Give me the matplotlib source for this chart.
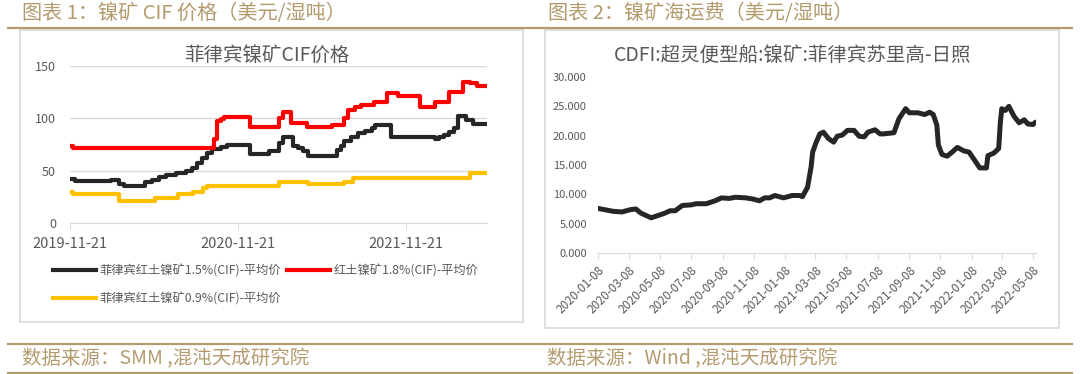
import matplotlib
matplotlib.use("Agg")
import matplotlib.pyplot as plt
import matplotlib.dates as mdates
from matplotlib.lines import Line2D
from matplotlib.patches import Rectangle
import pandas as pd

plt.rcParams['font.family'] = ['Noto Sans CJK SC', 'DejaVu Sans']

# ---- chart 1: CIF prices (step series) ----
black_dates = ['2019-11-21', '2019-12-01', '2020-02-17', '2020-03-07', '2020-03-18',
               '2020-05-02', '2020-05-17', '2020-06-01', '2020-06-16', '2020-07-08',
               '2020-07-30', '2020-08-11', '2020-08-22', '2020-09-02', '2020-09-13',
               '2020-09-25', '2020-10-13', '2020-10-28', '2020-12-16', '2021-01-26',
               '2021-02-17', '2021-02-25', '2021-03-19', '2021-03-30', '2021-04-10',
               '2021-04-22', '2021-06-13', '2021-06-24', '2021-07-02', '2021-07-09',
               '2021-07-24', '2021-08-08', '2021-08-23', '2021-09-07', '2021-09-14',
               '2021-10-18', '2022-01-23', '2022-01-30', '2022-02-11', '2022-02-22',
               '2022-03-05', '2022-03-13', '2022-03-31', '2022-04-15', '2022-05-15']
black_vals = [42, 40, 41, 37, 35, 39, 41, 44, 46, 48, 50, 53, 57, 62, 67,
              71, 73, 75, 66, 69, 76, 82, 74, 72, 69, 64, 64, 70, 74, 78,
              82, 86, 88, 91, 94, 82, 80, 82, 84, 87, 91, 102, 98, 95, 95]

red_dates = ['2019-11-21', '2019-11-27', '2020-09-28', '2020-10-06', '2020-10-13',
             '2020-10-21', '2020-12-16', '2021-02-17', '2021-02-25', '2021-03-15',
             '2021-04-18', '2021-06-13', '2021-07-09', '2021-07-17', '2021-08-01',
             '2021-08-15', '2021-09-11', '2021-10-10', '2021-11-02', '2021-12-20',
             '2022-01-23', '2022-02-22', '2022-03-24', '2022-04-08', '2022-04-23',
             '2022-05-15']
red_vals = [74, 72, 80, 97, 99, 101, 92, 100, 106, 96, 92, 94, 100, 108, 111,
            113, 116, 124, 121, 111, 116, 125, 135, 134, 131, 131]

gold_dates = ['2019-11-21', '2019-11-27', '2020-03-07', '2020-05-24', '2020-07-12',
              '2020-08-14', '2020-09-06', '2020-09-13', '2021-02-17', '2021-04-22',
              '2021-07-09', '2021-07-28', '2022-04-08', '2022-05-15']
gold_vals = [30, 28, 21, 24, 28, 30, 33, 35, 39, 37, 39, 43, 48, 48]

cif_labels = ['菲律宾红土镍矿1.5%(CIF)-平均价', '红土镍矿1.8%(CIF)-平均价',
              '菲律宾红土镍矿0.9%(CIF)-平均价']
cif_ticks = ['2019-11-21', '2020-11-21', '2021-11-21']

# ---- chart 2: freight ----
freight_dates = ['2020-01-08', '2020-02-07', '2020-02-24', '2020-03-12', '2020-03-22',
                 '2020-04-01', '2020-04-11', '2020-04-21', '2020-05-05', '2020-05-18',
                 '2020-05-28', '2020-06-07', '2020-06-21', '2020-07-08', '2020-07-18',
                 '2020-08-07', '2020-08-24', '2020-09-06', '2020-09-20', '2020-10-03',
                 '2020-10-23', '2020-11-06', '2020-11-19', '2020-11-29', '2020-12-09',
                 '2020-12-19', '2021-01-05', '2021-01-22', '2021-02-05', '2021-02-11',
                 '2021-02-21', '2021-02-28', '2021-03-03', '2021-03-10', '2021-03-17',
                 '2021-03-24', '2021-04-03', '2021-04-13', '2021-04-20', '2021-04-30',
                 '2021-05-10', '2021-05-23', '2021-06-02', '2021-06-12', '2021-06-19',
                 '2021-07-03', '2021-07-13', '2021-07-19', '2021-08-09', '2021-08-19',
                 '2021-09-01', '2021-09-08', '2021-09-25', '2021-10-08', '2021-10-18',
                 '2021-10-25', '2021-11-01', '2021-11-04', '2021-11-11', '2021-11-21',
                 '2021-12-01', '2021-12-11', '2021-12-24', '2022-01-03', '2022-01-14',
                 '2022-01-24', '2022-02-06', '2022-02-09', '2022-02-20', '2022-03-02',
                 '2022-03-05', '2022-03-08', '2022-03-15', '2022-03-22', '2022-04-01',
                 '2022-04-11', '2022-04-21', '2022-04-28', '2022-05-08', '2022-05-13']
freight_vals = [7.6, 7.1, 7.0, 7.4, 7.5, 6.8, 6.4, 6.0, 6.4, 6.8,
                7.2, 7.2, 8.1, 8.2, 8.4, 8.4, 8.9, 9.4, 9.3, 9.5,
                9.4, 9.2, 8.9, 9.4, 9.4, 9.8, 9.4, 9.8, 9.8, 9.6,
                11.2, 14.7, 17.2, 18.9, 20.3, 20.6, 19.5, 18.9, 19.9, 20.1,
                20.9, 20.9, 19.9, 19.8, 20.6, 21.0, 20.3, 20.3, 20.5, 22.9,
                24.6, 23.9, 23.9, 23.6, 24.0, 23.6, 21.8, 18.4, 16.8, 16.5,
                17.2, 18.0, 17.4, 17.2, 15.8, 14.5, 14.5, 16.6, 17.0, 17.8,
                22.0, 24.6, 24.3, 25.0, 23.3, 22.2, 22.7, 22.0, 21.9, 22.3]

GOLD = '#b39b6e'
GRID = '#d9d9d9'
TXT = '#595959'
W, H = 1080, 374

fig = plt.figure(figsize=(10.8, 3.74), dpi=100)
fig.patch.set_facecolor('white')

def fx(px):
    return px / W

def fy(py):
    return 1 - py / H

# decoration: headings, rules, boxes, sources
fig.text(fx(22), fy(14), '图表 1：镍矿 CIF 价格（美元/湿吨）', color=GOLD, fontsize=14.5,
         va='center', ha='left')
fig.text(fx(548), fy(14), '图表 2：镍矿海运费（美元/湿吨）', color=GOLD, fontsize=14.5,
         va='center', ha='left')
for yy in (28, 344, 372.5):
    fig.add_artist(Line2D([fx(8), fx(1072)], [fy(yy), fy(yy)], color=GOLD, lw=1.6))
fig.add_artist(Rectangle((fx(20), fy(322)), fx(503), (322 - 30) / H, fill=False,
                         edgecolor=GRID, lw=1.2, transform=fig.transFigure))
fig.add_artist(Rectangle((fx(545), fy(328)), fx(514), (328 - 30) / H, fill=False,
                         edgecolor=GRID, lw=1.2, transform=fig.transFigure))
fig.text(fx(22), fy(359), '数据来源：SMM ,混沌天成研究院', color=GOLD, fontsize=14,
         va='center', ha='left')
fig.text(fx(547), fy(359), '数据来源：Wind ,混沌天成研究院', color=GOLD, fontsize=14,
         va='center', ha='left')

# ---- left chart ----
ax1 = fig.add_axes([fx(70), fy(223), fx(417), (223 - 66) / H])
l1, = ax1.plot(pd.to_datetime(black_dates), black_vals, drawstyle='steps-post',
               color='#262626', lw=3)
l2, = ax1.plot(pd.to_datetime(red_dates), red_vals, drawstyle='steps-post',
               color='#ff0000', lw=3)
l3, = ax1.plot(pd.to_datetime(gold_dates), gold_vals, drawstyle='steps-post',
               color='#ffc000', lw=3)
ax1.set_xlim(pd.Timestamp('2019-11-21'), pd.Timestamp('2022-05-15'))
ax1.set_ylim(0, 150)
ax1.set_yticks([0, 50, 100, 150])
ax1.yaxis.grid(True, color=GRID, lw=1)
ax1.set_axisbelow(True)
ax1.set_xticks(pd.to_datetime(cif_ticks))
ax1.set_xticklabels(cif_ticks)
for s in ('top', 'right', 'left'):
    ax1.spines[s].set_visible(False)
ax1.spines['bottom'].set_color(GRID)
ax1.tick_params(axis='y', length=0, pad=10, labelsize=9, labelcolor=TXT)
ax1.tick_params(axis='x', length=4, color=GRID, pad=6, labelsize=10.5, labelcolor=TXT)
fig.text(fx(267), fy(55), '菲律宾镍矿CIF价格', fontsize=14, color=TXT, ha='center', va='center')
fig.legend([l1, l3, l2], [cif_labels[0], cif_labels[2], cif_labels[1]], ncol=2,
           loc='upper left', bbox_to_anchor=(fx(53), fy(264)), frameon=False,
           fontsize=8.8, labelcolor=TXT, handlelength=3.5, handletextpad=0.3,
           columnspacing=0.5, labelspacing=1.25, borderpad=0, borderaxespad=0)

# ---- right chart ----
ax2 = fig.add_axes([fx(598), fy(253), fx(438), (253 - 77) / H])
ax2.plot(pd.to_datetime(freight_dates), freight_vals, color='#262626', lw=3.6,
         solid_joinstyle='round', solid_capstyle='round')
ax2.set_xlim(pd.Timestamp('2020-01-08'), pd.Timestamp('2022-05-14'))
ax2.set_ylim(0, 30)
ax2.set_yticks([0, 5, 10, 15, 20, 25, 30])
ax2.yaxis.set_major_formatter(matplotlib.ticker.FormatStrFormatter('%.3f'))
tick_dates = pd.date_range('2020-01-08', '2022-05-08', freq=pd.DateOffset(months=2))
ax2.set_xticks(tick_dates)
ax2.xaxis.set_major_formatter(mdates.DateFormatter('%Y-%m-%d'))
for lab in ax2.get_xticklabels():
    lab.set_rotation(45)
    lab.set_ha('right')
    lab.set_rotation_mode('anchor')
for s in ('top', 'right', 'left'):
    ax2.spines[s].set_visible(False)
ax2.spines['bottom'].set_color(GRID)
ax2.tick_params(axis='y', length=0, pad=8, labelsize=8, labelcolor=TXT)
ax2.tick_params(axis='x', length=4, color=GRID, pad=4, labelsize=8.5, labelcolor=TXT)
fig.text(fx(793), fy(55), 'CDFI:超灵便型船:镍矿:菲律宾苏里高-日照', fontsize=14, color=TXT,
         ha='center', va='center')

fig.savefig('out.png', dpi=100)
